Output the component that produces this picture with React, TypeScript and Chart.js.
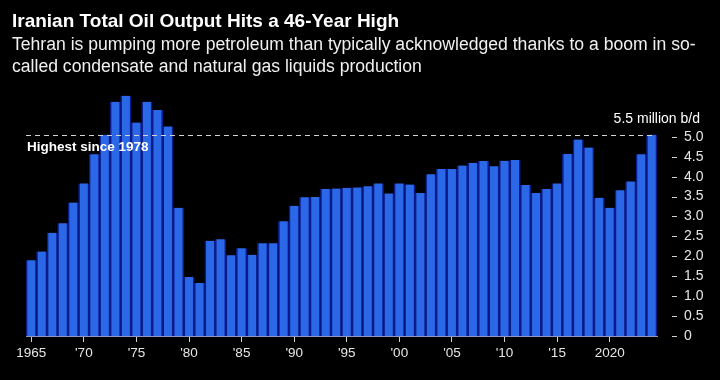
import React, { useEffect, useRef } from "react";
import { Chart, registerables } from "chart.js";

Chart.register(...registerables);

const titleText = "Iranian Total Oil Output Hits a 46-Year High";
const subtitleLines = [
  "Tehran is pumping more petroleum than typically acknowledged thanks to a boom in so-",
  "called condensate and natural gas liquids production",
];

const years = [
  1965, 1966, 1967, 1968, 1969, 1970, 1971, 1972, 1973, 1974,
  1975, 1976, 1977, 1978, 1979, 1980, 1981, 1982, 1983, 1984,
  1985, 1986, 1987, 1988, 1989, 1990, 1991, 1992, 1993, 1994,
  1995, 1996, 1997, 1998, 1999, 2000, 2001, 2002, 2003, 2004,
  2005, 2006, 2007, 2008, 2009, 2010, 2011, 2012, 2013, 2014,
  2015, 2016, 2017, 2018, 2019, 2020, 2021, 2022, 2023, 2024,
];

const output = [
  1.90, 2.12, 2.59, 2.83, 3.35, 3.83, 4.56, 5.05, 5.88, 6.03,
  5.36, 5.88, 5.67, 5.26, 3.22, 1.48, 1.33, 2.39, 2.43, 2.03,
  2.20, 2.04, 2.33, 2.33, 2.88, 3.27, 3.48, 3.49, 3.69, 3.70,
  3.72, 3.73, 3.76, 3.83, 3.58, 3.83, 3.80, 3.59, 4.06, 4.19,
  4.19, 4.28, 4.34, 4.39, 4.26, 4.40, 4.42, 3.79, 3.59, 3.69,
  3.83, 4.57, 4.93, 4.73, 3.47, 3.22, 3.66, 3.88, 4.56, 5.05,
];

const xTickYears = [1965, 1970, 1975, 1980, 1985, 1990, 1995, 2000, 2005, 2010, 2015, 2020];
const xTickLabels = ["1965", "'70", "'75", "'80", "'85", "'90", "'95", "'00", "'05", "'10", "'15", "2020"];

const yTickValues = [0, 0.5, 1, 1.5, 2, 2.5, 3, 3.5, 4, 4.5, 5];
const yMax = 6.2;

const highLevel = 5.05;
const highLabel = "Highest since 1978";
const unitLabel = "5.5 million b/d";

const FONT = '"Liberation Sans", Arial, sans-serif';
const BAR_COLOR = "#2b68e8";
const BAR_EDGE = "#0b1b8a";

const annotationPlugin = {
  id: "annotations",
  afterDatasetsDraw(chart: any) {
    const { ctx, chartArea, scales } = chart;
    const y = scales.y;
    const py = Math.round(y.getPixelForValue(highLevel)) + 0.5;
    ctx.save();
    ctx.strokeStyle = "#d4d4d4";
    ctx.lineWidth = 1;
    ctx.setLineDash([5, 4]);
    ctx.beginPath();
    ctx.moveTo(chartArea.left, py);
    ctx.lineTo(chartArea.right - 3, py);
    ctx.stroke();
    ctx.setLineDash([]);

    ctx.fillStyle = "#ffffff";
    ctx.font = "bold 13.5px " + FONT;
    ctx.textAlign = "left";
    ctx.textBaseline = "top";
    ctx.fillText(highLabel, chartArea.left + 1, py + 5);

    ctx.font = "14px " + FONT;
    ctx.textAlign = "right";
    ctx.textBaseline = "alphabetic";
    ctx.fillText(unitLabel, y.right - 20, py - 13);

    ctx.strokeStyle = "#cfcfcf";
    ctx.lineWidth = 1;
    for (const t of y.ticks) {
      const ty = Math.round(y.getPixelForValue(t.value)) + 0.5;
      ctx.beginPath();
      ctx.moveTo(chartArea.right + 15, ty);
      ctx.lineTo(chartArea.right + 20, ty);
      ctx.stroke();
    }
    ctx.restore();
  },
};

export default function App() {
  const canvasRef = useRef<HTMLCanvasElement | null>(null);

  useEffect(() => {
    document.body.style.margin = "0";
    document.body.style.background = "#000";
    const canvas = canvasRef.current;
    if (!canvas) return;
    const chart = new Chart(canvas, {
      type: "bar",
      data: {
        labels: years.map(String),
        datasets: [
          {
            data: output,
            backgroundColor: BAR_COLOR,
            borderColor: BAR_EDGE,
            borderWidth: { left: 1.6, right: 1.6, top: 0, bottom: 0 },
            borderSkipped: "start",
            barPercentage: 1,
            categoryPercentage: 1,
          },
        ],
      },
      options: {
        responsive: false,
        animation: false,
        devicePixelRatio: 1,
        layout: { padding: { left: 26, right: 0, top: 89, bottom: 0 } },
        plugins: {
          legend: { display: false },
          tooltip: { enabled: false },
          title: { display: false },
        },
        scales: {
          x: {
            offset: true,
            grid: {
              display: true,
              offset: false,
              drawOnChartArea: false,
              drawTicks: true,
              tickLength: 6,
              color: (c: any) => {
                const yr = years[c.index];
                return xTickYears.includes(yr) ? "#d0d0d0" : "rgba(0,0,0,0)";
              },
            },
            border: { display: true, color: "#8e98c0", width: 1 },
            ticks: {
              autoSkip: false,
              maxRotation: 0,
              minRotation: 0,
              padding: 3,
              color: "#e6e6e6",
              font: { family: FONT, size: 13.5 },
              callback: (_v: any, i: number) => {
                const k = xTickYears.indexOf(years[i]);
                return k >= 0 ? xTickLabels[k] : "";
              },
            },
            afterFit: (s: any) => {
              s.height = 44;
            },
          },
          y: {
            position: "right",
            min: 0,
            max: yMax,
            grid: { display: false },
            border: { display: false },
            afterBuildTicks: (s: any) => {
              s.ticks = yTickValues.map((v) => ({ value: v }));
            },
            ticks: {
              padding: 19,
              color: "#e6e6e6",
              font: { family: FONT, size: 14 },
              callback: (v: any) => (Number(v) === 0 ? "0" : Number(v).toFixed(1)),
            },
            afterFit: (s: any) => {
              s.width = 63;
            },
          },
        },
      },
      plugins: [annotationPlugin],
    } as any);
    return () => chart.destroy();
  }, []);

  return (
    <div style={{ position: "relative", width: 720, height: 380, background: "#000", overflow: "hidden" }}>
      <canvas ref={canvasRef} width={720} height={380} style={{ position: "absolute", left: 0, top: 0, width: 720, height: 380 }} />
      <div
        style={{
          position: "absolute",
          left: 12,
          top: 8,
          color: "#fff",
          fontFamily: FONT,
          pointerEvents: "none",
          whiteSpace: "nowrap",
        }}
      >
        <div style={{ fontWeight: "bold", fontSize: 19, lineHeight: "25px" }}>{titleText}</div>
        <div style={{ fontSize: 17.6, lineHeight: "22px", color: "#f0f0f0" }}>
          {subtitleLines.map((l, i) => (
            <div key={i}>{l}</div>
          ))}
        </div>
      </div>
    </div>
  );
}
